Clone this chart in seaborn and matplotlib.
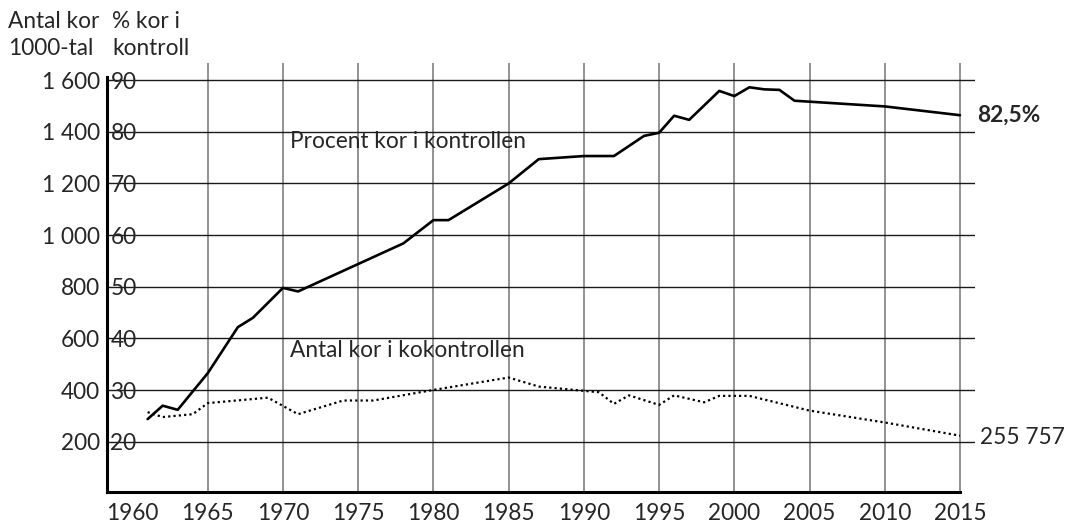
import matplotlib
matplotlib.use("Agg")
import matplotlib.pyplot as plt
import seaborn as sns

# Procent kor i kontrollen
pct_years = [1961, 1962, 1963, 1965, 1967, 1968, 1970, 1971, 1978, 1980, 1981,
             1985, 1987, 1990, 1992, 1994, 1995, 1996, 1997, 1999, 2000, 2001,
             2002, 2003, 2004, 2010, 2015]
pct_values = [24.4, 27.0, 26.2, 33.3, 42.2, 44.0, 49.8, 49.1, 58.4, 62.9, 62.9,
              70.0, 74.7, 75.3, 75.3, 79.2, 79.8, 83.1, 82.3, 87.9, 86.9, 88.6,
              88.2, 88.1, 86.0, 84.9, 83.2]

# Antal kor i kokontrollen (1000-tal)
cow_years = [1961, 1962, 1964, 1965, 1969, 1971, 1974, 1976, 1980, 1985, 1987,
             1991, 1992, 1993, 1995, 1996, 1998, 1999, 2001, 2005, 2010, 2015]
cow_values = [315, 296, 307, 350, 371, 307, 360, 360, 401, 449, 414,
              392, 347, 380, 343, 380, 353, 378, 378, 321, 275, 224]

year_ticks = list(range(1960, 2016, 5))
pct_ticks = list(range(20, 91, 10))
cow_ticks = list(range(200, 1601, 200))
cow_labels = ["{:,}".format(v).replace(",", " ") for v in cow_ticks]

sns.set_style("white")
plt.rcParams["font.family"] = ["Lato", "DejaVu Sans"]
FS = 16.3

fig = plt.figure(figsize=(10.72, 5.27), dpi=100)
ax = fig.add_axes([107 / 1072, 1 - 492 / 527, 868 / 1072, 429 / 527])

ylo, yhi = 10.3, 93.3
ax.set_xlim(1958.3, 2016)
ax.set_ylim(ylo, yhi)

ax.set_xticks(year_ticks)
ax.set_xticklabels([str(y) for y in year_ticks], fontsize=FS)
ax.set_yticks(pct_ticks)
ax.set_yticklabels([str(p) for p in pct_ticks], fontsize=FS)
plt.setp(ax.get_yticklabels(), ha="left")
ax.tick_params(axis="y", length=0, pad=-2.5)
ax.tick_params(axis="x", length=0, pad=8)

ax.grid(axis="x", color="#7f7f7f", lw=1.2)
ax.grid(axis="y", color="#1a1a1a", lw=1.0)
ax.get_xgridlines()[0].set_visible(False)
ax.set_axisbelow(True)

for s in ["top", "right"]:
    ax.spines[s].set_visible(False)
ax.spines["left"].set_linewidth(2.2)
ax.spines["bottom"].set_linewidth(2.2)
ax.spines["left"].set_color("black")
ax.spines["bottom"].set_color("black")
ax.spines["left"].set_bounds(ylo, 90.6)
ax.spines["bottom"].set_bounds(1958.3, 2015)

sns.lineplot(x=pct_years, y=pct_values, ax=ax, color="black", lw=1.9)

# second scale for number of cows, same gridlines (200 <-> 20 %, 1600 <-> 90 %)
ax2 = ax.twinx()
ax2.set_ylim(200 + (ylo - 20) * 20, 200 + (yhi - 20) * 20)
ax2.yaxis.tick_left()
ax2.set_yticks(cow_ticks)
ax2.set_yticklabels(cow_labels, fontsize=FS)
ax2.tick_params(axis="y", length=0, pad=5)
for s in ax2.spines.values():
    s.set_visible(False)
sns.lineplot(x=cow_years, y=cow_values, ax=ax2, color="black", lw=1.6,
             linestyle=(0, (1, 1.4)))
ax2.set_xlim(1958.3, 2016)

ax.set_xlabel("")
ax.set_ylabel("")
ax2.set_ylabel("")

ax.text(0.211, 0.818, "Procent kor i kontrollen", transform=ax.transAxes,
        fontsize=FS, va="center", ha="left")
ax.text(0.211, 0.331, "Antal kor i kokontrollen", transform=ax.transAxes,
        fontsize=FS, va="center", ha="left")

fig.text(977 / 1072, 1 - 115 / 527, "82,5%", fontsize=FS, fontweight="bold",
         va="center", ha="left")
fig.text(980 / 1072, 1 - 437 / 527, "255 757", fontsize=FS, va="center", ha="left")
fig.text(8 / 1072, 1 - 35 / 527, "Antal kor\n1000-tal", fontsize=FS,
         va="center", ha="left", linespacing=1.4)
fig.text(112 / 1072, 1 - 35 / 527, "% kor i\nkontroll", fontsize=FS,
         va="center", ha="left", linespacing=1.4)

fig.savefig("out.png", dpi=100)
